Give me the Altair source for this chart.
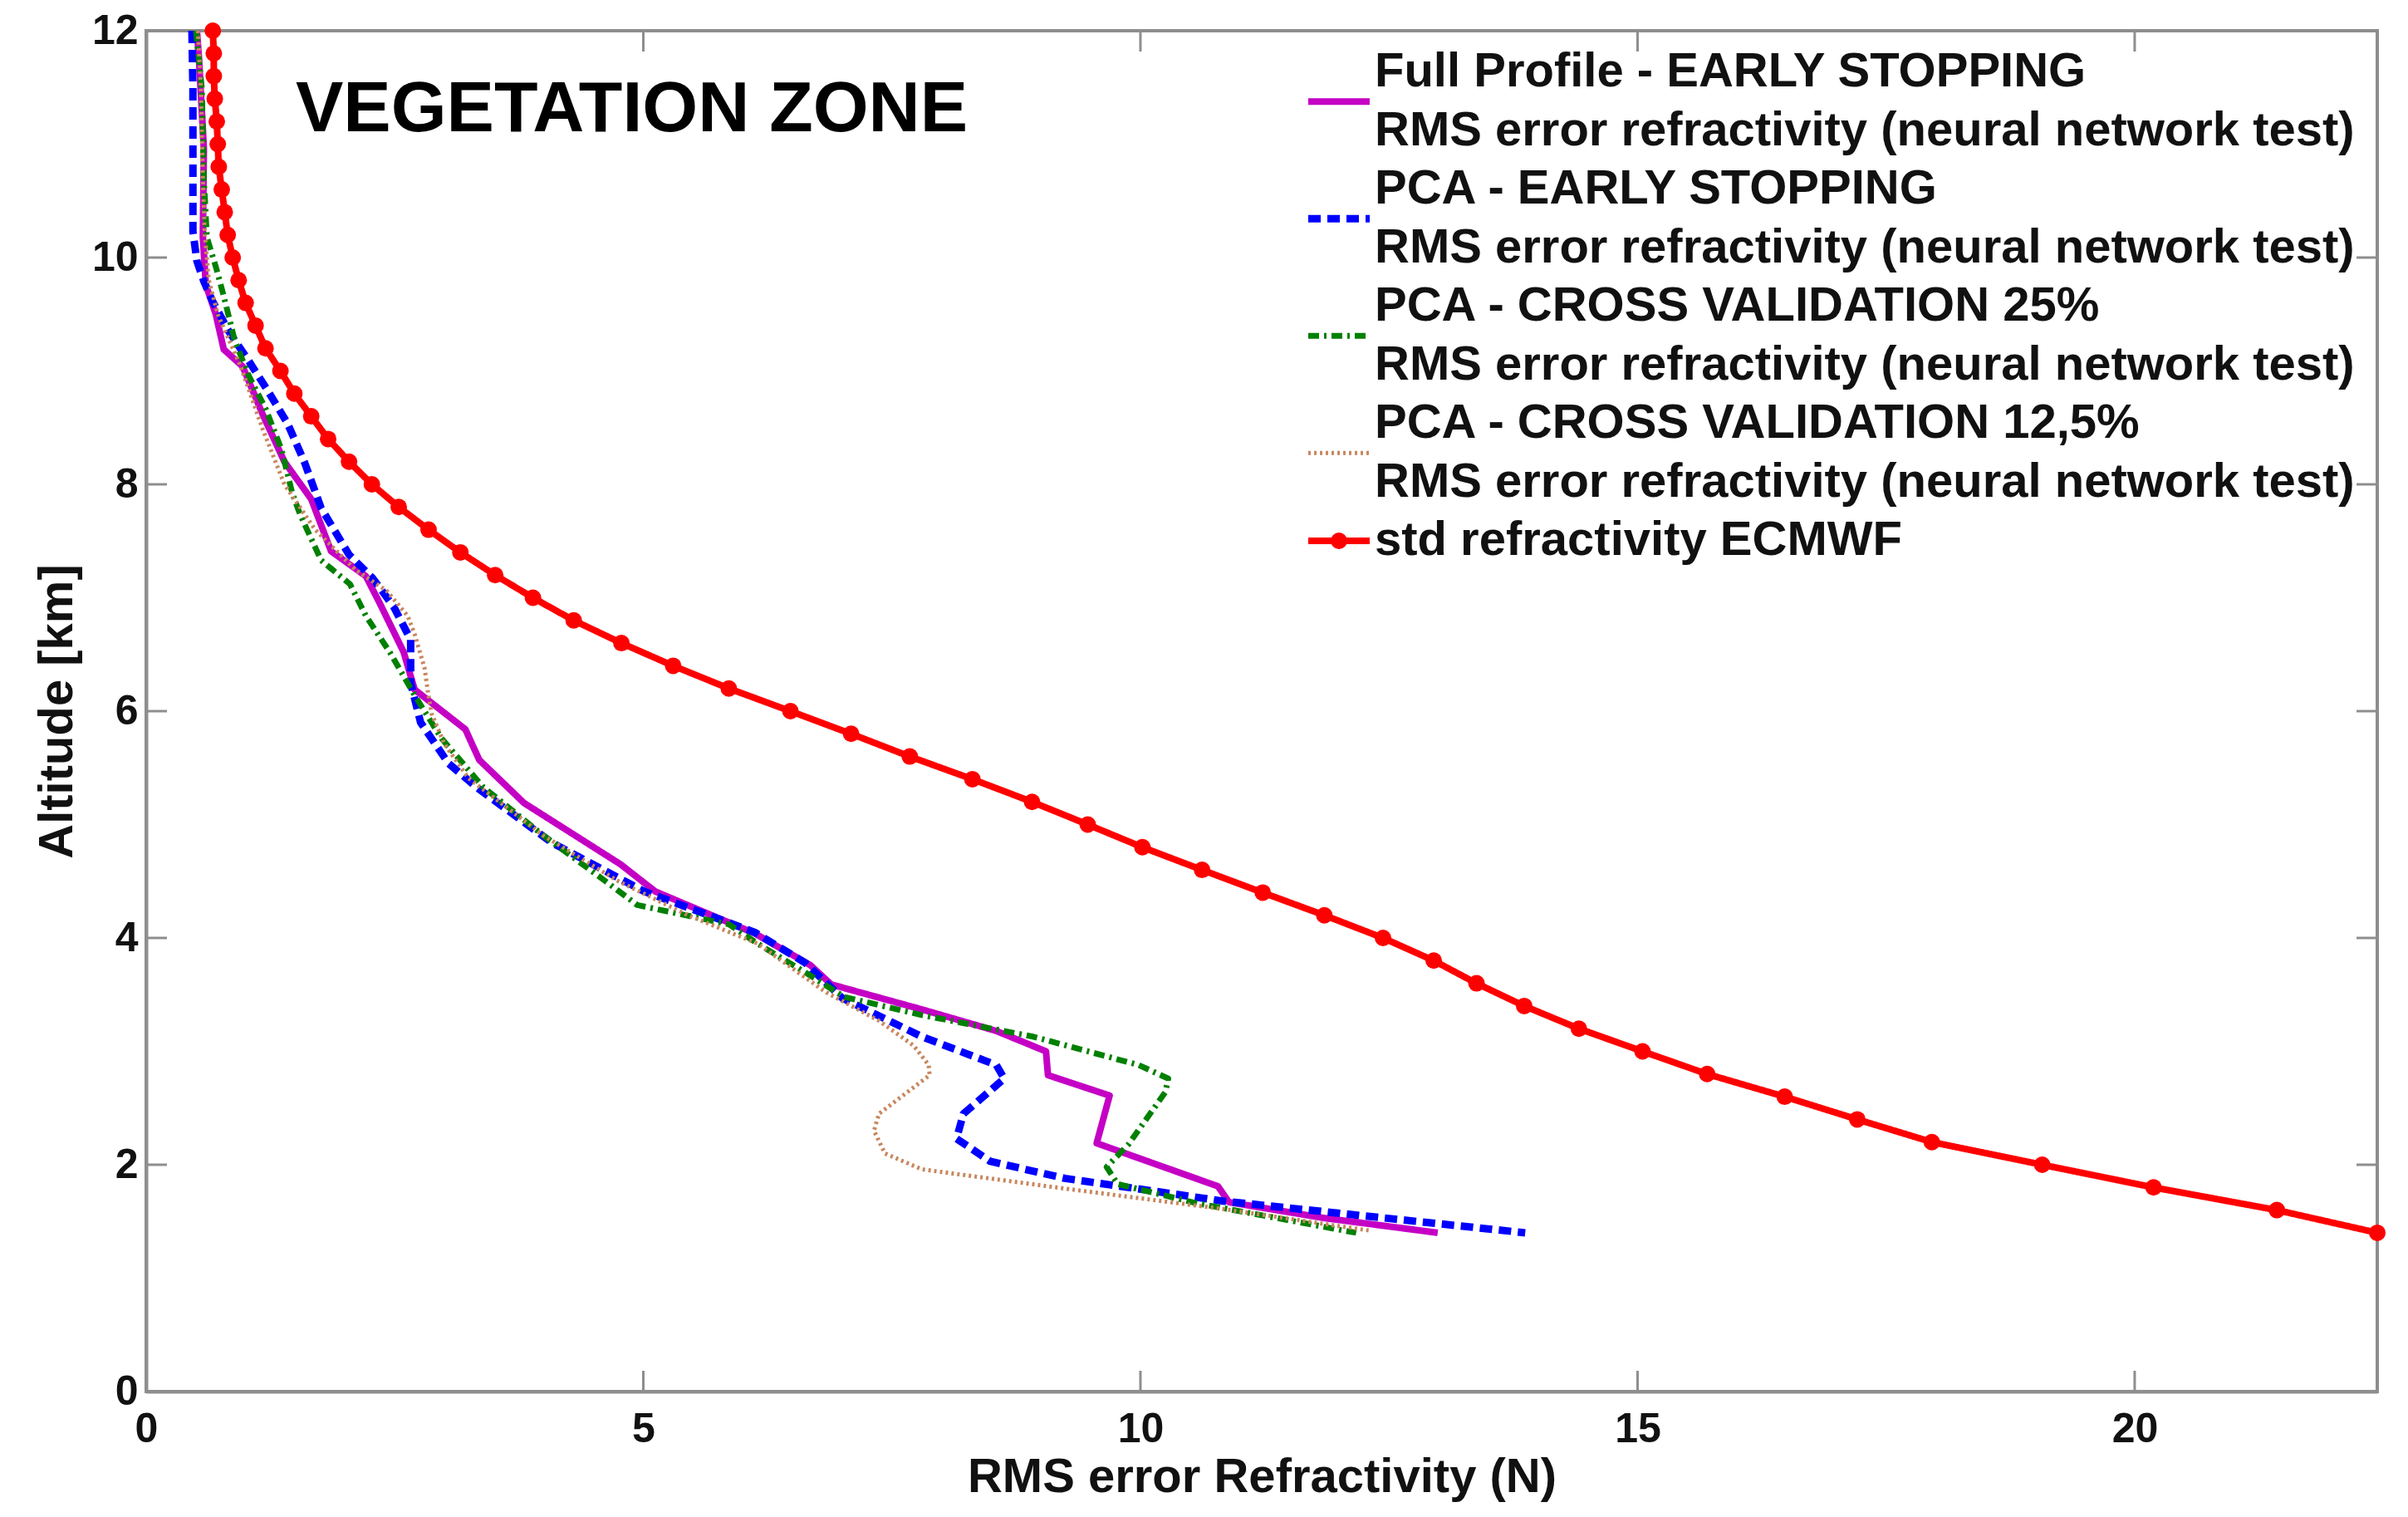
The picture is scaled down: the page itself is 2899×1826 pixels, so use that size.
import altair as alt
import pandas as pd

# ---------------- data ----------------
SERIES = [
    "Full Profile - EARLY STOPPING",
    "PCA - EARLY STOPPING",
    "PCA - CROSS VALIDATION 25%",
    "PCA - CROSS VALIDATION 12,5%",
    "std refractivity ECMWF",
]
SUBLINE = "RMS error refractivity (neural network test)"
COLORS = ["#c400c4", "#0000ff", "#008000", "#c8875f", "#ff0000"]
DASHES = [[1, 0], [15, 8], [13, 6, 3, 6], [3, 4], [1, 0]]
WIDTHS = [8, 9, 7, 5, 8]

fp_alt = [12.0, 11.77, 10.96, 10.18, 9.76, 9.50, 9.19, 9.04, 8.62, 8.20, 7.87, 7.41, 7.19, 6.95, 6.52,
          6.19, 5.84, 5.57, 5.19, 4.65, 4.41, 4.04, 3.76, 3.59, 3.37, 3.18, 3.00, 2.79, 2.61, 2.19,
          1.81, 1.67, 1.53, 1.40]
fp_val = [0.51, 0.53, 0.58, 0.57, 0.60, 0.70, 0.78, 0.97, 1.17, 1.39, 1.66, 1.86, 2.21, 2.35, 2.59,
          2.70, 3.21, 3.35, 3.80, 4.77, 5.12, 6.12, 6.68, 6.89, 7.80, 8.55, 9.05, 9.07, 9.69, 9.56,
          10.78, 10.89, 11.85, 12.99]

pe_alt = [12.0, 11.49, 10.70, 10.23, 9.97, 9.79, 9.61, 9.35, 9.09, 8.83, 8.54, 8.20, 7.79, 7.38, 7.17,
          6.92, 6.63, 6.25, 5.90, 5.54, 5.33, 4.84, 4.41, 4.05, 3.78, 3.47, 3.13, 2.88, 2.76, 2.45,
          2.23, 2.03, 1.88, 1.68, 1.40]
pe_val = [0.46, 0.47, 0.47, 0.47, 0.51, 0.58, 0.67, 0.83, 1.03, 1.22, 1.42, 1.59, 1.76, 2.04, 2.28,
          2.49, 2.66, 2.66, 2.76, 3.04, 3.32, 4.08, 5.01, 6.12, 6.63, 7.00, 7.80, 8.55, 8.63, 8.22,
          8.15, 8.49, 9.24, 10.83, 13.87]

cv25_alt = [12.0, 11.49, 10.70, 10.18, 9.92, 9.66, 9.27, 8.96, 8.67, 8.31, 7.92, 7.73, 7.33, 7.12, 6.84,
            6.52, 6.14, 5.76, 5.33, 4.90, 4.50, 4.29, 4.12, 3.95, 3.69, 3.48, 3.32, 3.13, 2.88, 2.76,
            2.64, 2.18, 1.98, 1.83, 1.66, 1.40]
cv25_val = [0.50, 0.56, 0.58, 0.61, 0.70, 0.78, 0.89, 1.03, 1.20, 1.36, 1.47, 1.55, 1.76, 2.05, 2.21,
            2.45, 2.70, 2.97, 3.39, 4.00, 4.62, 4.94, 5.86, 6.15, 6.64, 7.02, 7.80, 8.92, 9.98, 10.28,
            10.25, 9.88, 9.66, 9.77, 10.57, 12.17]

cv12_alt = [12.0, 11.5, 10.7, 10.2, 9.8, 9.5, 9.04, 8.49, 8.0, 7.6, 7.25, 7.06, 6.84, 6.68, 6.38, 6.19,
            5.98, 5.71, 5.41, 4.9, 4.5, 4.2, 3.95, 3.52, 3.27, 3.05, 2.88, 2.79, 2.45, 2.30, 2.10,
            1.96, 1.79, 1.61, 1.42]
cv12_val = [0.52, 0.55, 0.57, 0.59, 0.63, 0.72, 0.95, 1.17, 1.39, 1.70, 2.10, 2.42, 2.63, 2.70, 2.80, 2.83,
            2.87, 3.00, 3.24, 4.00, 4.75, 5.45, 6.15, 6.84, 7.37, 7.72, 7.87, 7.88, 7.37, 7.32, 7.43,
            7.80, 9.24, 10.83, 12.3]

ec_alt = [1.4, 1.6, 1.8, 2.0, 2.2, 2.4, 2.6, 2.8, 3.0, 3.2, 3.4, 3.6, 3.8, 4.0, 4.2, 4.4, 4.6, 4.8,
          5.0, 5.2, 5.4, 5.6, 5.8, 6.0, 6.2, 6.4, 6.6, 6.8, 7.0, 7.2, 7.4, 7.6, 7.8, 8.0, 8.2, 8.4,
          8.6, 8.8, 9.0, 9.2, 9.4, 9.6, 9.8, 10.0, 10.2, 10.4, 10.6, 10.8, 11.0, 11.2, 11.4, 11.6,
          11.8, 12.0]
ec_val = [22.44, 21.43, 20.19, 19.07, 17.96, 17.21, 16.48, 15.70, 15.05, 14.41, 13.86, 13.38, 12.95,
          12.44, 11.85, 11.23, 10.62, 10.02, 9.47, 8.91, 8.31, 7.68, 7.09, 6.48, 5.86, 5.30, 4.78,
          4.30, 3.89, 3.51, 3.16, 2.84, 2.54, 2.27, 2.04, 1.83, 1.66, 1.49, 1.35, 1.20, 1.10, 1.00,
          0.93, 0.87, 0.82, 0.79, 0.76, 0.73, 0.72, 0.71, 0.69, 0.68, 0.68, 0.67]

X_TICKS = [0, 5, 10, 15, 20]
Y_TICKS = [0, 2, 4, 6, 8, 10, 12]
INNER_X_TICKS = [5, 10, 15, 20]
INNER_Y_TICKS = [2, 4, 6, 8, 10]
TITLE = "VEGETATION ZONE"
X_TITLE = "RMS error Refractivity (N)"
Y_TITLE = "Altitude [km]"

LEG_ROWS = [0, 1, 2, 3, 4, 5, 6, 7, 8]
LEG_SYM_ROWS = [0.5, 2.5, 4.5, 6.5, 8]

# ---------------- tables ----------------
rows = []
for s, a_list, v_list, w in zip(SERIES, [fp_alt, pe_alt, cv25_alt, cv12_alt, ec_alt],
                                [fp_val, pe_val, cv25_val, cv12_val, ec_val], WIDTHS):
    for i, (a, v) in enumerate(zip(a_list, v_list)):
        rows.append({"series": s, "y": a, "x": v, "idx": i, "w": w})
df = pd.DataFrame(rows)
df_red = df[df["series"] == SERIES[4]]

leg_lines = []
for s in SERIES[:4]:
    leg_lines += [s, SUBLINE]
leg_lines.append(SERIES[4])
leg_text = pd.DataFrame({"row": LEG_ROWS, "label": leg_lines})
leg_sym = pd.DataFrame({"series": SERIES, "row": LEG_SYM_ROWS, "w": WIDTHS})
leg_dot = leg_sym[leg_sym["series"] == SERIES[4]]

# ---------------- chart ----------------
W, H = 2686, 1638
TOP = 29
FONT = "Liberation Sans"
AX = "#8e8e8e"

xscale = alt.Scale(domain=[0, 22.44], nice=False, zero=False)
yscale = alt.Scale(domain=[0, 12], nice=False, zero=False)
cscale = alt.Scale(domain=SERIES, range=COLORS)
dscale = alt.Scale(domain=SERIES, range=DASHES)
legscale = alt.Scale(domain=[0, 8], range=[50, 614], nice=False, zero=False)

X = alt.X("x:Q", scale=xscale,
          axis=alt.Axis(title=X_TITLE, values=X_TICKS, ticks=False, tickSize=0, grid=False,
                        labelPadding=20, titlePadding=4, labelFlush=False, format="d"))
Y_MAIN = alt.Y("y:Q", scale=yscale,
               axis=alt.Axis(title=Y_TITLE, values=Y_TICKS, ticks=False, tickSize=0, grid=False,
                             labelPadding=10, titlePadding=12, format="d"))
Y_PLAIN = alt.Y("y:Q", scale=yscale, axis=None)

lines = alt.Chart(df).mark_line(strokeCap="butt", strokeJoin="round").encode(
    x=X, y=Y_MAIN,
    color=alt.Color("series:N", scale=cscale, legend=None),
    strokeDash=alt.StrokeDash("series:N", scale=dscale, legend=None),
    strokeWidth=alt.StrokeWidth("w:Q", scale=None),
    order=alt.Order("idx:Q"),
)

points = alt.Chart(df_red).mark_point(filled=True, shape="circle", size=400, opacity=1,
                                      color="#ff0000").encode(x=X, y=Y_PLAIN)

xt = pd.DataFrame({"x": INNER_X_TICKS})
yt = pd.DataFrame({"y": INNER_Y_TICKS})
tick_bottom = alt.Chart(xt).mark_rule(color=AX, strokeWidth=3).encode(
    x=X, y=alt.value(H), y2=alt.value(H - 25))
tick_top = alt.Chart(xt).mark_rule(color=AX, strokeWidth=3).encode(
    x=X, y=alt.value(0), y2=alt.value(25))
tick_left = alt.Chart(yt).mark_rule(color=AX, strokeWidth=3).encode(
    y=Y_PLAIN, x=alt.value(0), x2=alt.value(25))
tick_right = alt.Chart(yt).mark_rule(color=AX, strokeWidth=3).encode(
    y=Y_PLAIN, x=alt.value(W), x2=alt.value(W - 25))

title = alt.Chart(pd.DataFrame({"t": [TITLE]})).mark_text(
    font=FONT, fontSize=86, fontWeight="bold", align="left", baseline="alphabetic", color="#000000"
).encode(text="t:N", x=alt.value(180), y=alt.value(121))

legend_text = alt.Chart(leg_text).mark_text(
    font=FONT, fontSize=58, fontWeight="bold", align="left", baseline="middle", color="#111111"
).encode(text="label:N", x=alt.value(1479),
         y=alt.Y("row:Q", scale=legscale, axis=None))

legend_sym = alt.Chart(leg_sym).mark_rule(strokeCap="butt").encode(
    x=alt.value(1399), x2=alt.value(1473),
    y=alt.Y("row:Q", scale=legscale, axis=None),
    color=alt.Color("series:N", scale=cscale, legend=None),
    strokeDash=alt.StrokeDash("series:N", scale=dscale, legend=None),
    strokeWidth=alt.StrokeWidth("w:Q", scale=None),
)
legend_dot = alt.Chart(leg_dot).mark_point(filled=True, shape="circle", size=400, opacity=1,
                                           color="#ff0000").encode(
    x=alt.value(1436), y=alt.Y("row:Q", scale=legscale, axis=None))

chart = alt.layer(
    lines, points, tick_bottom, tick_top, tick_left, tick_right, title,
    legend_sym, legend_dot, legend_text
).resolve_scale(y="independent").properties(
    width=W, height=H,
    autosize=alt.AutoSizeParams(type="none"),
    padding={"left": 168, "top": TOP, "right": 29, "bottom": 135},
    background="#ffffff",
).configure_view(
    stroke=AX, strokeWidth=4
).configure_axis(
    domainColor=AX, domainWidth=4,
    labelFont=FONT, labelFontSize=50, labelFontWeight="bold", labelColor="#111111",
    titleFont=FONT, titleFontSize=58, titleFontWeight="bold", titleColor="#111111",
)

chart.save("out.html", embed_options={"renderer": "svg", "actions": False})
